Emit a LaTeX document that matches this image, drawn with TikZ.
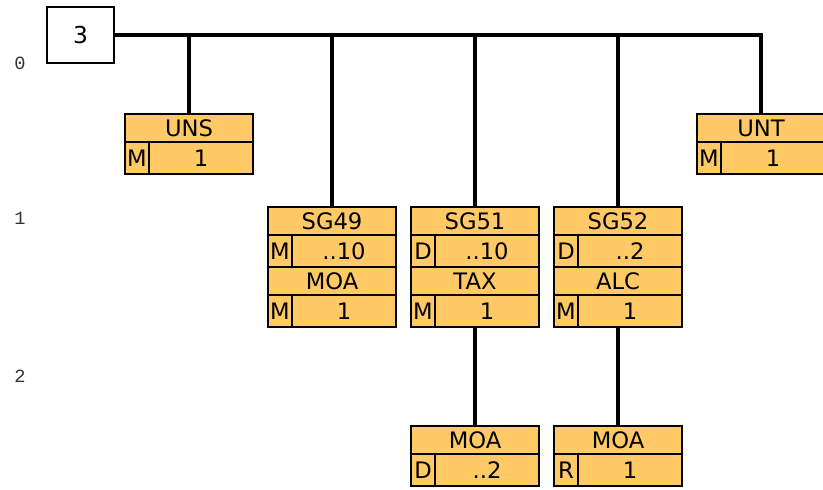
\documentclass[tikz,border=0pt]{standalone}
\usepackage{fontspec}
\setmainfont{DejaVu Sans}
\setmonofont{Liberation Mono}
\usetikzlibrary{positioning}
\definecolor{segfill}{HTML}{FFC966}
\definecolor{lvlgray}{HTML}{333333}

\begin{document}
\begin{tikzpicture}[
    x=0.75pt, y=-0.75pt,
    head/.style={draw, line width=2.1pt, fill=segfill, anchor=north west,
        minimum width=96pt, minimum height=21pt, inner sep=0pt, outer sep=0pt,
        font=\fontsize{17}{19}\selectfont},
    st/.style={draw, line width=2.1pt, fill=segfill, anchor=north west,
        minimum width=18pt, minimum height=24pt, inner sep=0pt, outer sep=0pt,
        font=\fontsize{17}{19}\selectfont},
    rep/.style={draw, line width=2.1pt, fill=segfill,
        minimum width=78pt, minimum height=24pt, inner sep=0pt, outer sep=0pt,
        font=\fontsize{17}{19}\selectfont},
    msgbox/.style={draw, line width=1.5pt, minimum width=50pt, minimum height=42pt,
        inner sep=0pt, outer sep=0pt, font=\fontsize{17.5}{19}\selectfont},
    lvl/.style={font=\ttfamily\fontsize{14}{16}\selectfont, text=lvlgray},
    conn/.style={line width=2.3pt},
]
\useasboundingbox (0,0) rectangle (823,489);

% Levels
\node[lvl] (lvl0) at (20, 63) {0};
\node[lvl] (lvl1) at (20, 218) {1};
\node[lvl] (lvl2) at (20, 376) {2};

% Group 3
\node[msgbox] (grp) at (80.5, 35) {3};

% UNS
\node[head] (uns) at (125, 114) {UNS};
\node[st] (unsst) at (uns.south west) {M};
\node[rep, right=0pt of unsst] (unsrep) {1};

% UNT
\node[head] (unt) at (697, 114) {UNT};
\node[st] (untst) at (unt.south west) {M};
\node[rep, right=0pt of untst] (untrep) {1};

% SG49
\node[head] (sga) at (268, 207) {SG49};
\node[st] (sgast) at (sga.south west) {M};
\node[rep, right=0pt of sgast] (sgarep) {..10};
\node[head] (moaa) at (sgast.south west) {MOA};
\node[st] (moaast) at (moaa.south west) {M};
\node[rep, right=0pt of moaast] (moaarep) {1};

% SG51
\node[head] (sgb) at (411, 207) {SG51};
\node[st] (sgbst) at (sgb.south west) {D};
\node[rep, right=0pt of sgbst] (sgbrep) {..10};
\node[head] (tax) at (sgbst.south west) {TAX};
\node[st] (taxst) at (tax.south west) {M};
\node[rep, right=0pt of taxst] (taxrep) {1};

% SG52
\node[head] (sgc) at (554, 207) {SG52};
\node[st] (sgcst) at (sgc.south west) {D};
\node[rep, right=0pt of sgcst] (sgcrep) {..2};
\node[head] (alc) at (sgcst.south west) {ALC};
\node[st] (alcst) at (alc.south west) {M};
\node[rep, right=0pt of alcst] (alcrep) {1};

% Level 2
\node[head] (moab) at (411, 426) {MOA};
\node[st] (moabst) at (moab.south west) {D};
\node[rep, right=0pt of moabst] (moabrep) {..2};
\node[head] (moac) at (554, 426) {MOA};
\node[st] (moacst) at (moac.south west) {R};
\node[rep, right=0pt of moacst] (moacrep) {1};

% Branches
\draw[conn] (grp.east) -| (unt.north);
\draw[conn] (uns.north) -- (uns.north |- grp.east);
\draw[conn] (sga.north) -- (sga.north |- grp.east);
\draw[conn] (sgb.north) -- (sgb.north |- grp.east);
\draw[conn] (sgc.north) -- (sgc.north |- grp.east);
\draw[conn] (taxrep.south -| tax.north) -- (moab.north);
\draw[conn] (alcrep.south -| alc.north) -- (moac.north);

\end{tikzpicture}
\end{document}
